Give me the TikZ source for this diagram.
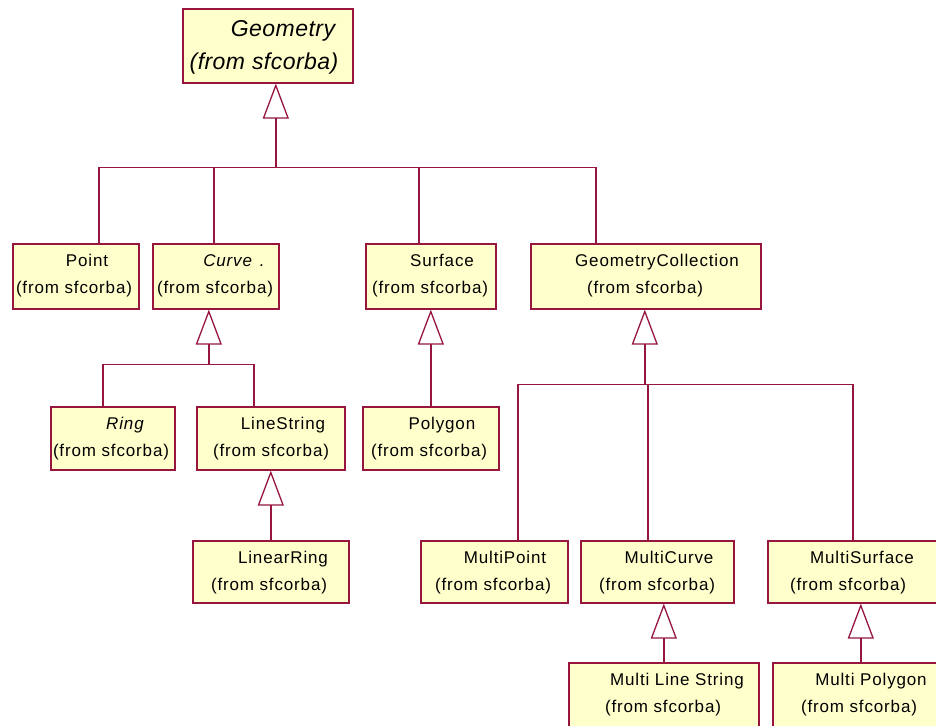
\documentclass[tikz,border=0pt]{standalone}
\usepackage{fontspec}
\setmainfont{Liberation Sans}
\newfontfamily\classfont[LetterSpace=5]{Liberation Sans}
\newfontfamily\rootfont[LetterSpace=2]{Liberation Sans}
\usetikzlibrary{arrows.meta}

\definecolor{roseline}{RGB}{150,22,62}
\definecolor{rosefill}{RGB}{255,255,204}

\tikzset{
  classbox/.style={draw=roseline, fill=rosefill, line width=1.6pt, rectangle,
    inner sep=0pt, anchor=north west},
  ctext/.style={font=\classfont\fontsize{17}{20}\selectfont, anchor=base, inner sep=0pt},
  roottext/.style={font=\rootfont\itshape\fontsize{23}{26}\selectfont, anchor=base, inner sep=0pt},
  wire/.style={draw=roseline, line width=1.6pt},
  inherit/.style={wire, -{Triangle[open, length=35pt, width=26pt, line width=1.3pt]}},
}

% #1 id, #2 left, #3 top, #4 width, #5 height, #6 class name,
% #7 centre x of the name, #8 centre x of the package line
\newcommand\umlclass[8]{%
  \node[classbox, minimum width=#4pt, minimum height=#5pt] (#1) at (#2,#3) {};
  \node[ctext] (#1-name) at (#7,#3+23) {#6};
  \node[ctext] (#1-pkg) at (#8,#3+50) {(from sfcorba)};
}

\begin{document}
\begin{tikzpicture}[x=1pt, y=-1pt]
  \useasboundingbox (0,0) rectangle (936,725);
  \fill[white] (0,0) rectangle (936,725);
  \clip (0,0) rectangle (936,725);

  % root class
  \node[classbox, minimum width=170pt, minimum height=74pt] (geometry) at (182,8) {};
  \node[roottext] (geometry-name) at (283,37) {Geometry};
  \node[roottext] (geometry-pkg) at (264,70) {(from sfcorba)};

  % first level
  \umlclass{point}{12}{243}{126}{65}{Point}{87}{74}
  \umlclass{curve}{152}{243}{126}{65}{\itshape Curve\hspace{8pt}.}{234}{215}
  \umlclass{surface}{365}{243}{130}{65}{Surface}{442}{430}
  \umlclass{gcol}{530}{243}{230}{65}{GeometryCollection}{657}{645}

  % second level
  \umlclass{ring}{50}{406}{124}{63}{\itshape Ring}{125}{111}
  \umlclass{linestring}{196}{406}{148}{63}{LineString}{283}{271}
  \umlclass{polygon}{362}{406}{136}{63}{Polygon}{442}{429}

  % third level
  \umlclass{linearring}{192}{540}{156}{62}{LinearRing}{283}{269}
  \umlclass{mpoint}{420}{540}{147}{62}{MultiPoint}{505}{493}
  \umlclass{mcurve}{580}{540}{153}{62}{MultiCurve}{669}{657}
  \umlclass{msurface}{767}{540}{186}{62}{MultiSurface}{862}{848}

  % fourth level
  \umlclass{mlinestring}{568}{662}{190}{90}{Multi Line String}{677}{663}
  \umlclass{mpolygon}{772}{662}{176}{90}{Multi Polygon}{871}{859}

  % attachment points
  \coordinate (g-bus) at ([xshift=8pt,yshift=-84pt]geometry.south);
  \coordinate (c-bus) at ([xshift=-7pt,yshift=-55pt]curve.south);
  \coordinate (gc-bus) at ([xshift=-1pt,yshift=-75pt]gcol.south);
  \coordinate (point-top) at ([xshift=23pt]point.north);
  \coordinate (curve-top) at ([xshift=-2pt]curve.north);
  \coordinate (surface-top) at ([xshift=-12pt]surface.north);
  \coordinate (gcol-top) at ([xshift=-50pt]gcol.north);
  \coordinate (ring-top) at ([xshift=-10pt]ring.north);
  \coordinate (linestring-top) at ([xshift=-17pt]linestring.north);
  \coordinate (mpoint-top) at ([xshift=23.5pt]mpoint.north);
  \coordinate (mcurve-top) at ([xshift=-9.5pt]mcurve.north);
  \coordinate (msurface-top) at ([xshift=-8pt]msurface.north);
  \coordinate (mcurve-bot) at ([xshift=6.5pt]mcurve.south);

  % Geometry and its subclasses
  \draw[wire] (point-top) |- (g-bus);
  \draw[wire] (curve-top) |- (g-bus);
  \draw[wire] (surface-top) |- (g-bus);
  \draw[wire] (gcol-top) |- (g-bus);
  \draw[inherit] (g-bus) -- ([xshift=8pt]geometry.south);

  % Curve and its subclasses
  \draw[wire] (ring-top) |- (c-bus);
  \draw[wire] (linestring-top) |- (c-bus);
  \draw[inherit] (c-bus) -- ([xshift=-7pt]curve.south);

  % LineString and LinearRing
  \draw[inherit] (linearring.north) -- (linearring.north |- linestring.south);

  % Surface and Polygon
  \draw[inherit] (polygon.north) -- (polygon.north |- surface.south);

  % GeometryCollection and its subclasses
  \draw[wire] (mpoint-top) |- (gc-bus);
  \draw[wire] (mcurve-top) |- (gc-bus);
  \draw[wire] (msurface-top) |- (gc-bus);
  \draw[inherit] (gc-bus) -- (gc-bus |- gcol.south);

  % multi-part classes
  \draw[inherit] (mlinestring.north) -- (mcurve-bot);
  \draw[inherit] (mpolygon.north) -- (mpolygon.north |- msurface.south);
\end{tikzpicture}
\end{document}
